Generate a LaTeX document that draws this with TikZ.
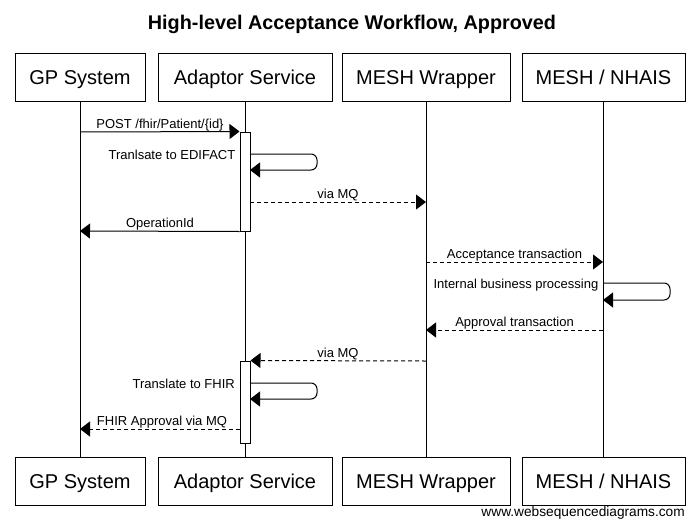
\documentclass[tikz,border=0pt]{standalone}
\usepackage{fontspec}
\setmainfont{Liberation Sans}
\usetikzlibrary{arrows.meta}
\begin{document}
\begin{tikzpicture}[x=1pt,y=-1pt,
  actor/.style={draw,line width=1pt,minimum height=48pt,inner xsep=0pt,text height=14.3pt,text depth=0pt,font=\fontsize{20}{24}\selectfont},
  lifeline/.style={line width=1pt},
  actbox/.style={draw,fill=white,line width=1pt,minimum width=10pt,inner sep=0pt},
  msg/.style={line width=1pt,-{Triangle[length=10pt,width=15pt]}},
  async/.style={msg,dash pattern=on 4pt off 3pt},
  lbl/.style={font=\fontsize{13}{15}\selectfont,inner sep=0pt,anchor=base},
  slbl/.style={lbl,anchor=base east},
  selfmsg/.style={msg,rounded corners=6pt},
]
\useasboundingbox (0,0) rectangle (700,530);

\node[font=\bfseries\fontsize{19.8}{23}\selectfont,inner sep=0pt,anchor=base] (title) at (352,29.3) {High-level Acceptance Workflow, Approved};

% participants
\node[actor,minimum width=130pt] (gpT) at (80,77.5) {GP System};
\node[actor,minimum width=174pt] (adT) at (245,77.5) {Adaptor Service};
\node[actor,minimum width=168pt] (mwT) at (426,77.5) {MESH Wrapper};
\node[actor,minimum width=163pt] (nhT) at (603.5,77.5) {MESH / NHAIS};
\node[actor,minimum width=130pt] (gpB) at (80,481) {GP System};
\node[actor,minimum width=174pt] (adB) at (245,481) {Adaptor Service};
\node[actor,minimum width=168pt] (mwB) at (426,481) {MESH Wrapper};
\node[actor,minimum width=163pt] (nhB) at (603.5,481) {MESH / NHAIS};

\draw[lifeline] (gpT) -- (gpB);
\draw[lifeline] (adT) -- (adB);
\draw[lifeline] (mwT) -- (mwB);
\draw[lifeline] (nhT) -- (nhB);

% activations
\node[actbox,minimum height=99pt] (act1) at (245,181.5) {};
\node[actbox,minimum height=82pt] (act2) at (245,402) {};

% coordinates on lifelines
\coordinate (gp1) at (80,132);
\coordinate (s1a) at (250,154);
\coordinate (s1c) at (317,154);
\coordinate (s1d) at (317,170);
\coordinate (s1b) at (250,170);
\coordinate (a1) at (250,202);
\coordinate (mw1) at (426,202);
\coordinate (gp2) at (80,231);
\coordinate (mw2) at (426,262);
\coordinate (nh2) at (603,262);
\coordinate (s2a) at (603,283);
\coordinate (s2c) at (670,283);
\coordinate (s2d) at (670,300);
\coordinate (s2b) at (603,300);
\coordinate (nh3) at (603,330);
\coordinate (mw3) at (426,330);
\coordinate (mw4) at (426,361);
\coordinate (s3a) at (250,383);
\coordinate (s3c) at (317,383);
\coordinate (s3d) at (317,399);
\coordinate (s3b) at (250,399);
\coordinate (a5) at (240,429);
\coordinate (gp5) at (80,429);

% messages
\draw[msg] (gp1) -- (act1.north west);
\node[lbl] (l1) at (160,128) {POST /fhir/Patient/\{id\}};

\draw[selfmsg] (s1a) -- (s1c) -- (s1d) -- (s1b);
\node[slbl] (l2) at (235.5,159) {Tranlsate to EDIFACT};

\draw[async] (a1) -- (mw1);
\node[lbl] (l3) at (338,198) {via MQ};

\draw[msg] (act1.south west) -- (gp2);
\node[lbl] (l4) at (160,227) {OperationId};

\draw[async] (mw2) -- (nh2);
\node[lbl] (l5) at (514.5,258) {Acceptance transaction};

\draw[selfmsg] (s2a) -- (s2c) -- (s2d) -- (s2b);
\node[slbl] (l6) at (598.5,288) {Internal business processing};

\draw[async] (nh3) -- (mw3);
\node[lbl] (l7) at (514.5,326) {Approval transaction};

\draw[async] (mw4) -- (act2.north east);
\node[lbl] (l8) at (338,357) {via MQ};

\draw[selfmsg] (s3a) -- (s3c) -- (s3d) -- (s3b);
\node[slbl] (l9) at (235,388) {Translate to FHIR};

\draw[async] (a5) -- (gp5);
\node[lbl] (l10) at (162,425) {FHIR Approval via MQ};

\node[font=\fontsize{13.7}{16}\selectfont,inner sep=0pt,anchor=base east] (wm) at (685,516) {www.websequencediagrams.com};
\end{tikzpicture}
\end{document}
